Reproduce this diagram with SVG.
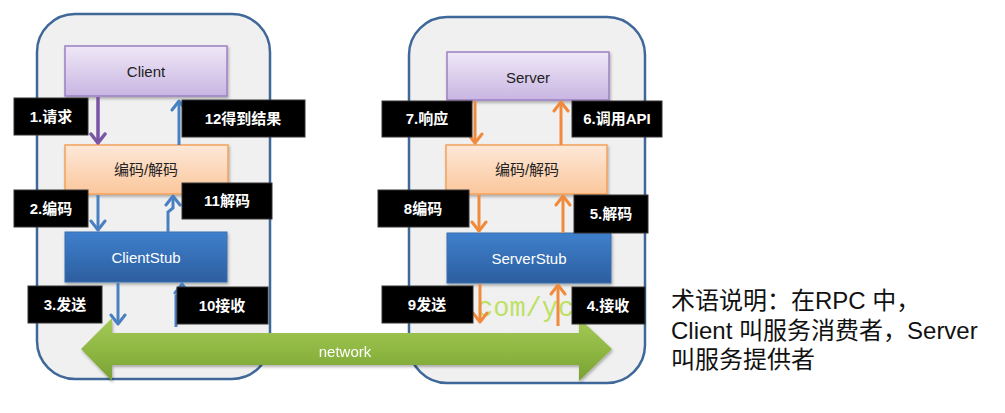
<svg xmlns="http://www.w3.org/2000/svg" width="1005" height="413" viewBox="0 0 1005 413">
  <style>
    text { font-family: "Liberation Sans", "Noto Sans CJK SC", sans-serif; }
    .container { fill: #f0f0f0; stroke: #3f6899; stroke-width: 2.5; }
    .lbl rect { fill: #000; stroke: #333; stroke-width: 1; }
    .lbl text { fill: #fff; font-size: 15px; font-weight: bold; text-anchor: middle; }
    .boxtxt { font-size: 15px; text-anchor: middle; fill: #222; }
    .stubtxt { font-size: 15px; text-anchor: middle; fill: #fff; }
    .ab { fill: none; stroke: #4a80c2; stroke-width: 3; marker-end: url(#mb); }
    .ap { fill: none; stroke: #7a55a6; stroke-width: 3.5; marker-end: url(#mp); }
    .ao { fill: none; stroke: #f08a3c; stroke-width: 3; marker-end: url(#mo); }
  </style>
  <defs>
    <linearGradient id="gPurple" x1="0" y1="0" x2="0" y2="1">
      <stop offset="0" stop-color="#efe8f7"/>
      <stop offset="1" stop-color="#c9b5e2"/>
    </linearGradient>
    <linearGradient id="gOrange" x1="0" y1="0" x2="0" y2="1">
      <stop offset="0" stop-color="#fde8d8"/>
      <stop offset="1" stop-color="#fbc79c"/>
    </linearGradient>
    <linearGradient id="gBlue" x1="0" y1="0" x2="0" y2="1">
      <stop offset="0" stop-color="#3f80cd"/>
      <stop offset="1" stop-color="#2c5e9f"/>
    </linearGradient>
    <linearGradient id="gGreen" x1="0" y1="0" x2="0" y2="1">
      <stop offset="0" stop-color="#a6c958"/>
      <stop offset="0.5" stop-color="#8fb843"/>
      <stop offset="1" stop-color="#78a034"/>
    </linearGradient>
    <filter id="sh" x="-10%" y="-10%" width="125%" height="140%">
      <feDropShadow dx="1" dy="2" stdDeviation="1.5" flood-color="#000" flood-opacity="0.3"/>
    </filter>
    <marker id="mb" markerUnits="userSpaceOnUse" viewBox="-12 -9 15 18" markerWidth="15" markerHeight="18" refX="0" refY="0" orient="auto">
      <path d="M-9,-7 L0,0 L-9,7" fill="none" stroke="#4a80c2" stroke-width="3" stroke-linecap="round" stroke-linejoin="round"/>
    </marker>
    <marker id="mp" markerUnits="userSpaceOnUse" viewBox="-12 -9 15 18" markerWidth="15" markerHeight="18" refX="0" refY="0" orient="auto">
      <path d="M-9,-7 L0,0 L-9,7" fill="none" stroke="#7a55a6" stroke-width="3.5" stroke-linecap="round" stroke-linejoin="round"/>
    </marker>
    <marker id="mo" markerUnits="userSpaceOnUse" viewBox="-12 -9 15 18" markerWidth="15" markerHeight="18" refX="0" refY="0" orient="auto">
      <path d="M-9,-7 L0,0 L-9,7" fill="none" stroke="#f08a3c" stroke-width="3" stroke-linecap="round" stroke-linejoin="round"/>
    </marker>
  </defs>

  <rect width="1005" height="413" fill="#fff"/>

  <g id="client-side">
    <rect class="container" x="37" y="14" width="233" height="365" rx="38"/>
  </g>
  <g id="server-side">
    <rect class="container" x="409" y="17" width="236" height="366" rx="38"/>
  </g>

  <text x="477" y="316" font-family="Liberation Mono, monospace" style="font-family: 'Liberation Mono', monospace;" font-size="27" fill="#b4de48" fill-opacity="0.85">com/yc</text>

  <g id="client">
    <rect x="65" y="46" width="162" height="50" fill="url(#gPurple)" stroke="#9d80c3" stroke-width="1.5" filter="url(#sh)"/>
    <text class="boxtxt" x="146" y="77">Client</text>
  </g>
  <g id="client-codec">
    <rect x="65" y="145" width="163" height="49" fill="url(#gOrange)" stroke="#f4a15c" stroke-width="1.5" filter="url(#sh)"/>
    <text class="boxtxt" x="146" y="175">编码/解码</text>
  </g>
  <g id="client-stub">
    <rect x="65" y="232" width="162" height="50" fill="url(#gBlue)" stroke="#3a6fb0" stroke-width="1" filter="url(#sh)"/>
    <text class="stubtxt" x="146" y="263">ClientStub</text>
  </g>
  <g id="server">
    <rect x="447" y="52" width="162" height="48" fill="url(#gPurple)" stroke="#9d80c3" stroke-width="1.5" filter="url(#sh)"/>
    <text class="boxtxt" x="528" y="83">Server</text>
  </g>
  <g id="server-codec">
    <rect x="446" y="145" width="161" height="49" fill="url(#gOrange)" stroke="#f4a15c" stroke-width="1.5" filter="url(#sh)"/>
    <text class="boxtxt" x="527" y="175">编码/解码</text>
  </g>
  <g id="server-stub">
    <rect x="447" y="233" width="164" height="50" fill="url(#gBlue)" stroke="#3a6fb0" stroke-width="1" filter="url(#sh)"/>
    <text class="stubtxt" x="529" y="264">ServerStub</text>
  </g>

  <g id="connectors">
    <path class="ap" d="M98,97 V143"/>
    <path class="ab" d="M179,145 V101"/>
    <path class="ab" d="M98,195 V230"/>
    <path class="ab" d="M168,232 V212 L173,208 V196"/>
    <path class="ab" d="M118,283 V324"/>
    <path class="ab" d="M176,327 V296 L182,292 V284"/>
    <path class="ao" d="M475,101 V143"/>
    <path class="ao" d="M561,145 V102"/>
    <path class="ao" d="M479,195 V231"/>
    <path class="ao" d="M563,233 V196"/>
    <path class="ao" d="M480,284 V322"/>
    <path class="ao" d="M558,326 V285"/>
  </g>

  <g id="network" filter="url(#sh)">
    <polygon points="81,349 112,318 112,333 579,333 579,318 612,349 579,381 579,365 112,365 112,381" fill="url(#gGreen)"/>
    <text x="345" y="357" font-size="15" fill="#fff" text-anchor="middle">network</text>
  </g>

  <g id="label-1" class="lbl"><rect x="14" y="98" width="74" height="37"/><text x="51" y="122">1.请求</text></g>
  <g id="label-12" class="lbl"><rect x="182" y="100" width="123" height="37"/><text x="243" y="124">12得到结果</text></g>
  <g id="label-2" class="lbl"><rect x="14" y="190" width="74" height="37"/><text x="51" y="214">2.编码</text></g>
  <g id="label-11" class="lbl"><rect x="182" y="183" width="90" height="36"/><text x="227" y="206">11解码</text></g>
  <g id="label-3" class="lbl"><rect x="28" y="286" width="74" height="37"/><text x="65" y="310">3.发送</text></g>
  <g id="label-10" class="lbl"><rect x="177" y="287" width="91" height="37"/><text x="222" y="311">10接收</text></g>
  <g id="label-7" class="lbl"><rect x="382" y="101" width="90" height="36"/><text x="427" y="124">7.响应</text></g>
  <g id="label-6" class="lbl"><rect x="572" y="101" width="90" height="36"/><text x="617" y="124">6.调用API</text></g>
  <g id="label-8" class="lbl"><rect x="378" y="190" width="91" height="37"/><text x="423" y="214">8编码</text></g>
  <g id="label-5" class="lbl"><rect x="574" y="195" width="74" height="38"/><text x="611" y="219">5.解码</text></g>
  <g id="label-9" class="lbl"><rect x="382" y="286" width="91" height="37"/><text x="427" y="310">9发送</text></g>
  <g id="label-4" class="lbl"><rect x="572" y="287" width="73" height="37"/><text x="608" y="311">4.接收</text></g>

  <g id="note" font-size="24" fill="#111">
    <text x="671" y="309">术语说明：在RPC 中，</text>
    <text x="671" y="339">Client 叫服务消费者，Server</text>
    <text x="671" y="368">叫服务提供者</text>
  </g>
</svg>
